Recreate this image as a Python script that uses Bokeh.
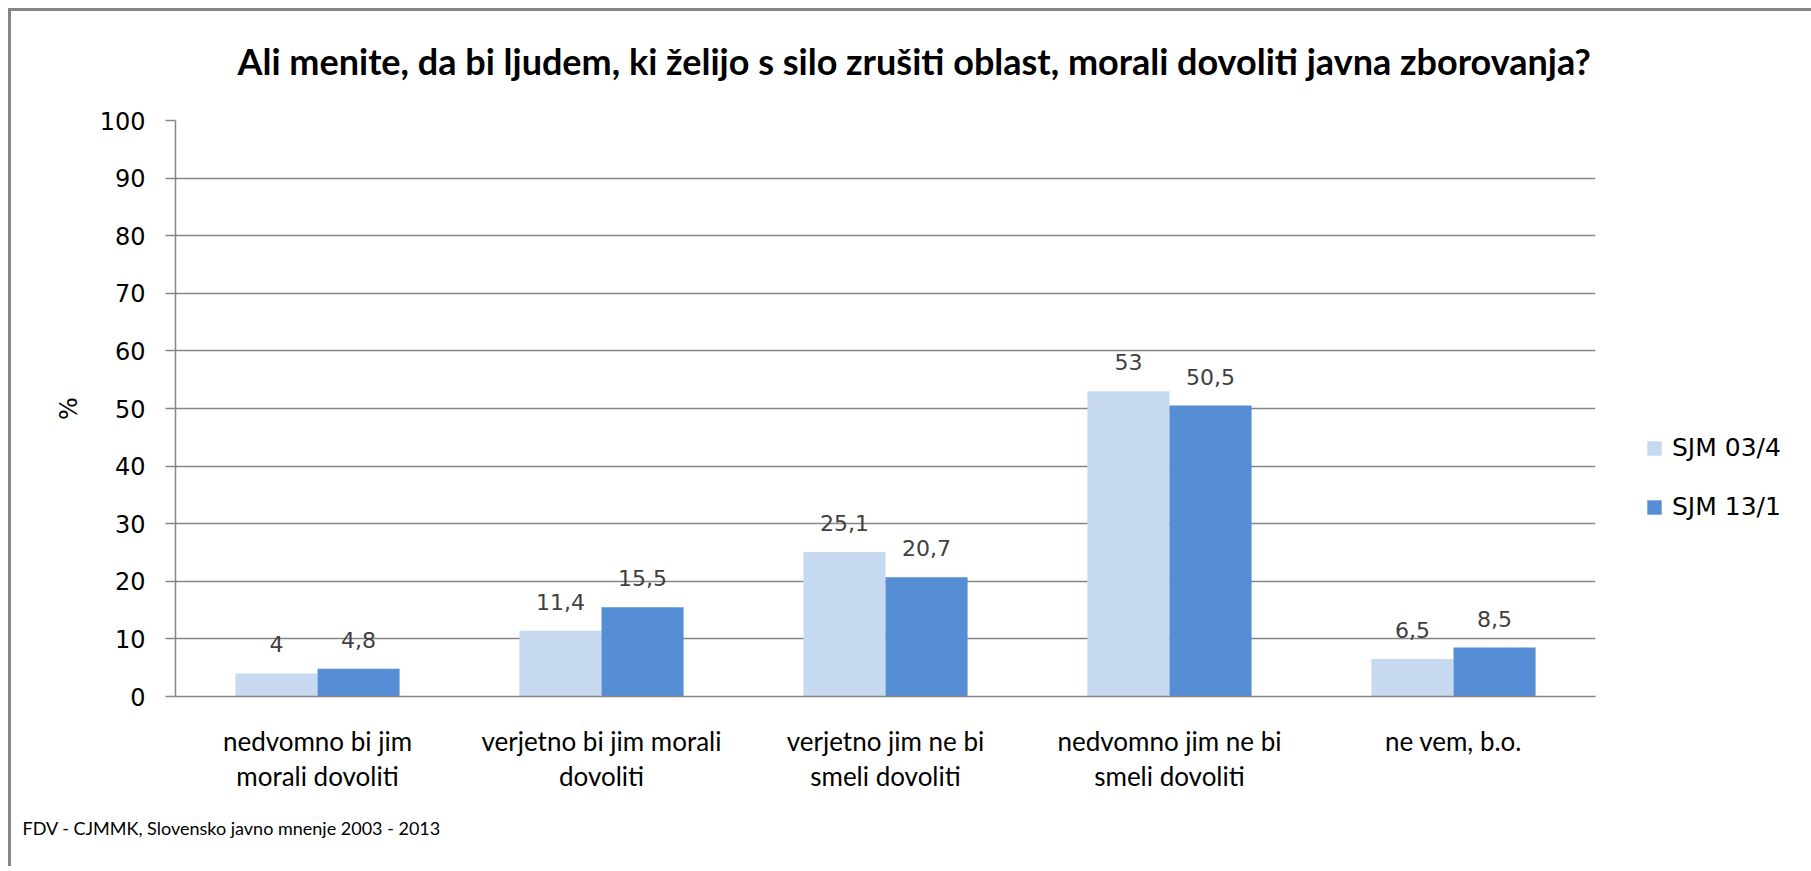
from bokeh.plotting import figure
from bokeh.layouts import column
from bokeh.models import FactorRange, Legend, LegendItem, Title, ColumnDataSource, Range1d, FixedTicker
from bokeh.transform import dodge
from bokeh.core.properties import value
from bokeh.embed import file_html
from bokeh.resources import INLINE

categories = [
    "nedvomno bi jim\nmorali dovoliti",
    "verjetno bi jim morali\ndovoliti",
    "verjetno jim ne bi\nsmeli dovoliti",
    "nedvomno jim ne bi\nsmeli dovoliti",
    "ne vem, b.o.",
]
series_names = ["SJM 03/4", "SJM 13/1"]
sjm_03_4 = [4, 11.4, 25.1, 53, 6.5]
sjm_13_1 = [4.8, 15.5, 20.7, 50.5, 8.5]
y_ticks = [0, 10, 20, 30, 40, 50, 60, 70, 80, 90, 100]
title_text = "Ali menite, da bi ljudem, ki želijo s silo zrušiti oblast, morali dovoliti javna zborovanja?"
footer_text = "FDV - CJMMK, Slovensko javno mnenje 2003 - 2013"
y_label = "%"

LIGHT = "#C6D9F1"
DARK = "#558ED5"
GRID = "#868686"
CAL = "Lato"
TAH = "DejaVu Sans"

FW = 1420
TITLE_H = 89
BL, BR = 164, 211


def fmt(v):
    return f"{v:g}".replace(".", ",")


# ---- title strip (a plain canvas holding the heading text) ----
t = figure(frame_width=FW, frame_height=TITLE_H,
           x_range=Range1d(0, FW), y_range=Range1d(0, TITLE_H),
           min_border_left=BL, min_border_right=BR, min_border_top=0, min_border_bottom=0,
           x_axis_location=None, y_axis_location=None,
           output_backend="svg", toolbar_location=None,
           background_fill_color="white", border_fill_color="white")
t.outline_line_color = None
t.grid.visible = False
t.text(x=[62], y=[40], text=[title_text], text_align="left", text_baseline="middle",
       text_font=value(CAL), text_font_style="bold", text_font_size="36px",
       text_color="black")

# ---- main chart ----
src = ColumnDataSource(dict(
    cat=categories,
    a=sjm_03_4,
    b=sjm_13_1,
    la=[fmt(v) for v in sjm_03_4],
    lb=[fmt(v) for v in sjm_13_1],
))

p = figure(
    x_range=FactorRange(factors=categories, range_padding=0),
    y_range=Range1d(0, 100),
    frame_width=FW, frame_height=576,
    min_border_left=BL, min_border_right=BR,
    min_border_top=109 - TITLE_H, min_border_bottom=170,
    output_backend="svg", toolbar_location=None,
    background_fill_color="white", border_fill_color="white",
)
p.outline_line_color = None

bw = 0.289
ra = p.vbar(x=dodge("cat", -bw / 2, range=p.x_range), top="a", width=bw, source=src,
            fill_color=LIGHT, line_color=None)
rb = p.vbar(x=dodge("cat", bw / 2, range=p.x_range), top="b", width=bw, source=src,
            fill_color=DARK, line_color=None)

p.text(x=dodge("cat", -bw / 2, range=p.x_range), y="a", text="la", source=src,
       text_align="center", text_baseline="middle", y_offset=-29,
       text_font=value(TAH), text_font_size="22px", text_color="#404040")
p.text(x=dodge("cat", bw / 2, range=p.x_range), y="b", text="lb", source=src,
       text_align="center", text_baseline="middle", y_offset=-29,
       text_font=value(TAH), text_font_size="22px", text_color="#404040")

# grid
p.xgrid.grid_line_color = None
p.ygrid.grid_line_color = GRID
p.ygrid.grid_line_width = 1.5

# y axis
p.yaxis.ticker = FixedTicker(ticks=y_ticks)
p.yaxis.minor_tick_line_color = None
p.yaxis.major_tick_in = 0
p.yaxis.major_tick_out = 10
p.yaxis.major_tick_line_color = GRID
p.yaxis.major_tick_line_width = 1.5
p.yaxis.axis_line_color = GRID
p.yaxis.axis_line_width = 1.5
p.yaxis.major_label_standoff = 20
p.yaxis.major_label_text_font = TAH
p.yaxis.major_label_text_font_size = "24px"
p.yaxis.major_label_text_color = "black"
p.yaxis.axis_label = y_label
p.yaxis.axis_label_text_font = TAH
p.yaxis.axis_label_text_font_size = "24px"
p.yaxis.axis_label_text_font_style = "normal"
p.yaxis.axis_label_text_color = "black"
p.yaxis.axis_label_standoff = 14

# x axis
p.xaxis.major_tick_line_color = None
p.xaxis.minor_tick_line_color = None
p.xaxis.axis_line_color = GRID
p.xaxis.axis_line_width = 1.5
p.xaxis.major_label_standoff = 22
p.xaxis.major_label_text_font = CAL
p.xaxis.major_label_text_font_size = "26px"
p.xaxis.major_label_text_color = "black"
p.xaxis.major_label_text_line_height = 1.1

# legend
legend = Legend(
    items=[LegendItem(label=series_names[0], renderers=[ra]),
           LegendItem(label=series_names[1], renderers=[rb])],
    location=(50, 175), orientation="vertical",
    glyph_width=18, glyph_height=18, label_height=26, spacing=30,
    padding=0, margin=0, label_standoff=9,
    border_line_color=None, background_fill_alpha=0,
    label_text_font=TAH, label_text_font_size="25px", label_text_color="black",
)
p.add_layout(legend, "right")

footer = Title(text=footer_text, align="left", offset=-153, standoff=40,
               text_font=CAL, text_font_style="normal", text_font_size="18px",
               text_color="black")
p.add_layout(footer, "below")

layout = column(t, p, spacing=0,
                styles={"margin-left": "8px", "margin-top": "8px",
                        "border-top": "3px solid #868686", "border-left": "3px solid #868686"})

open("out.html", "w").write(file_html(layout, INLINE))
